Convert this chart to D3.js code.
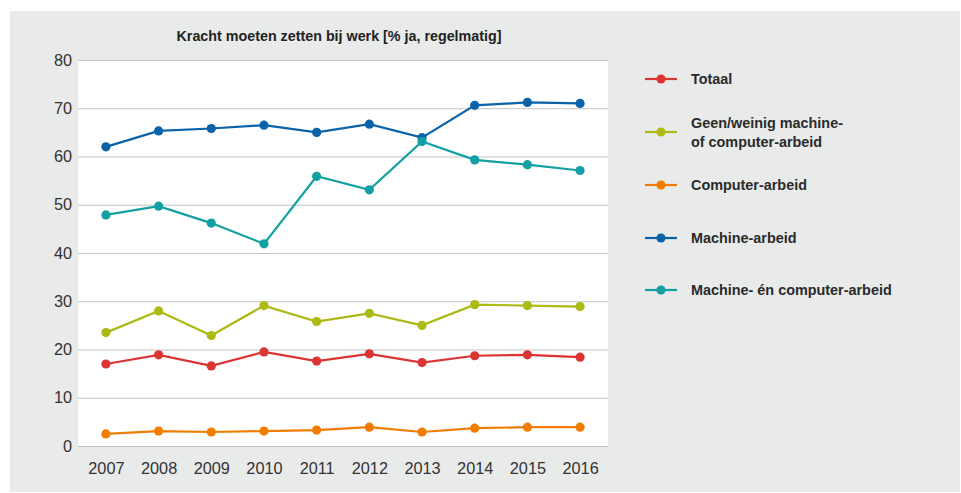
<!DOCTYPE html>
<html>
<head>
<meta charset="utf-8">
<script src="https://cdn.jsdelivr.net/npm/d3@7"></script>
<style>
  html, body { margin: 0; padding: 0; background: #ffffff; }
  svg { display: block; }
  text { font-family: "Liberation Sans", Arial, sans-serif; }
</style>
</head>
<body>
<svg id="chart" width="961" height="493"></svg>
<script>
// Years on the x axis
const years = ["2007", "2008", "2009", "2010", "2011", "2012", "2013", "2014", "2015", "2016"];

// Share answering "ja, regelmatig" per group (%)
const totaal = [17.0, 18.9, 16.6, 19.5, 17.6, 19.1, 17.3, 18.7, 18.9, 18.4];
const geenWeinig = [23.5, 28.0, 22.9, 29.1, 25.8, 27.5, 25.0, 29.3, 29.1, 28.9];
const computerArbeid = [2.5, 3.1, 2.9, 3.1, 3.3, 3.9, 2.9, 3.7, 3.9, 3.9];
const machineArbeid = [62.0, 65.3, 65.8, 66.5, 65.0, 66.7, 63.9, 70.6, 71.2, 71.0];
const machineEnComputer = [47.9, 49.7, 46.2, 41.9, 55.9, 53.1, 63.1, 59.3, 58.3, 57.1];

const yTicks = [0, 10, 20, 30, 40, 50, 60, 70, 80];

const seriesNames = [
  ["Totaal"],
  ["Geen/weinig machine-", "of computer-arbeid"],
  ["Computer-arbeid"],
  ["Machine-arbeid"],
  ["Machine- én computer-arbeid"]
];
const seriesValues = [totaal, geenWeinig, computerArbeid, machineArbeid, machineEnComputer];
const seriesColors = ["#dc3333", "#adb914", "#f07d00", "#0a62a9", "#13a0a4"];

const svg = d3.select("#chart");

// grey panel
svg.append("rect")
  .attr("x", 10).attr("y", 11).attr("width", 950).attr("height", 481)
  .attr("fill", "#e9eaea");

const plot = { left: 78, right: 608, top: 60, bottom: 446 };

// white plot area
svg.append("rect")
  .attr("x", plot.left).attr("y", plot.top)
  .attr("width", plot.right - plot.left).attr("height", plot.bottom - plot.top)
  .attr("fill", "#ffffff");

const x = d3.scalePoint().domain(years).range([plot.left, plot.right]).padding(0.53);
const y = d3.scaleLinear().domain([0, 80]).range([plot.bottom, plot.top]);

// title
svg.append("text")
  .attr("x", 339).attr("y", 41)
  .attr("text-anchor", "middle")
  .attr("font-size", 14.3).attr("font-weight", "bold")
  .attr("fill", "#222")
  .text("Kracht moeten zetten bij werk [% ja, regelmatig]");

// horizontal gridlines + y axis labels
const yAxis = d3.axisLeft(y).tickValues(yTicks).tickSize(-(plot.right - plot.left)).tickPadding(6);
const gy = svg.append("g").attr("transform", `translate(${plot.left},0)`).call(yAxis);
gy.select(".domain").remove();
gy.selectAll(".tick line").attr("stroke", "#c4c4c4").attr("stroke-width", 1.2);
gy.selectAll(".tick text")
  .attr("font-size", 16.3).attr("fill", "#333")
  .attr("font-family", "Liberation Sans, Arial, sans-serif");

// x axis labels
const xAxis = d3.axisBottom(x).tickSize(0).tickPadding(16);
const gx = svg.append("g").attr("transform", `translate(0,${plot.bottom})`).call(xAxis);
gx.select(".domain").remove();
gx.selectAll(".tick text")
  .attr("font-size", 16.3).attr("fill", "#333")
  .attr("font-family", "Liberation Sans, Arial, sans-serif");

// lines and markers
const line = d3.line().x((d, i) => x(years[i])).y(d => y(d));

seriesValues.forEach((vals, s) => {
  const g = svg.append("g");
  g.append("path")
    .datum(vals)
    .attr("d", line)
    .attr("fill", "none")
    .attr("stroke", seriesColors[s])
    .attr("stroke-width", 2.2);
  g.selectAll("circle")
    .data(vals)
    .join("circle")
    .attr("cx", (d, i) => x(years[i]))
    .attr("cy", d => y(d))
    .attr("r", 4.6)
    .attr("fill", seriesColors[s]);
});

// legend
const legendY = [79, 132, 185, 238, 290];
seriesNames.forEach((lines, s) => {
  const g = svg.append("g").attr("transform", `translate(0,${legendY[s]})`);
  g.append("line")
    .attr("x1", 645).attr("x2", 677).attr("y1", 0).attr("y2", 0)
    .attr("stroke", seriesColors[s]).attr("stroke-width", 2.2);
  g.append("circle").attr("cx", 661).attr("cy", 0).attr("r", 4.6).attr("fill", seriesColors[s]);
  const t = g.append("text")
    .attr("x", 691)
    .attr("font-size", 14.4).attr("font-weight", "bold").attr("fill", "#2a2a2a");
  const offset = lines.length === 1 ? 0 : -9.5;
  lines.forEach((ln, k) => {
    t.append("tspan")
      .attr("x", 691)
      .attr("y", offset + k * 19.5)
      .attr("dy", "0.35em")
      .text(ln);
  });
});
</script>
</body>
</html>
